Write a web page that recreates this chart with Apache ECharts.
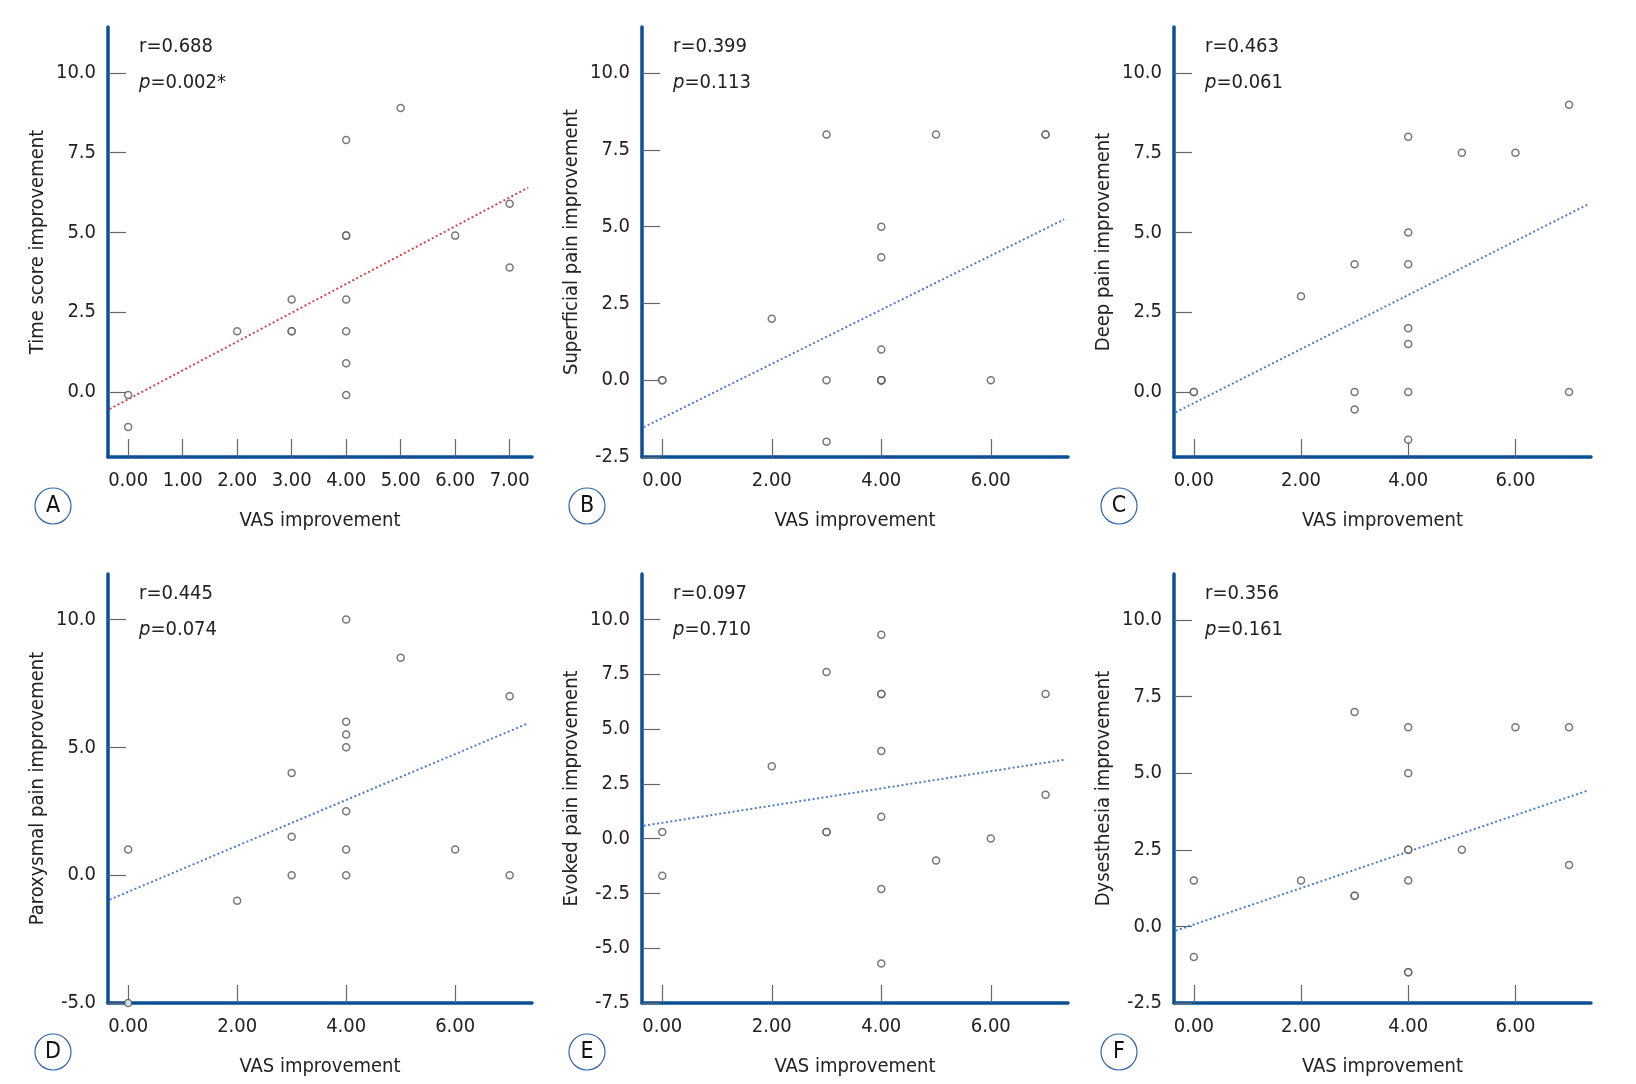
<!DOCTYPE html>
<html>
<head>
<meta charset="utf-8">
<script src="https://cdn.jsdelivr.net/npm/echarts@6/dist/echarts.min.js"></script>
<style>
html, body { margin: 0; padding: 0; background: #fff; }
#chart { width: 1636px; height: 1084px; }
</style>
</head>
<body>
<div id="chart"></div>
<script>
// VAS improvement, same 17 patients in every panel
var vas = [0, 0, 2, 3, 3, 3, 4, 4, 4, 4, 4, 4, 4, 5, 6, 7, 7];
var timeScore = [-0.1, -1.1, 1.9, 2.9, 1.9, 1.9, 7.9, 4.9, 4.9, 2.9, 1.9, 0.9, -0.1, 8.9, 4.9, 5.9, 3.9];
var superficial = [0, 0, 2, 8, 0, -2, 5, 4, 1, 0, 0, 0, 0, 8, 0, 8, 8];
var deep = [0, 0, 3, 4, 0, -0.55, 8, 5, 4, 2, 1.5, 0, -1.5, 7.5, 7.5, 9, 0];
var paroxysmal = [1, -5, -1, 4, 1.5, 0, 10, 6, 5.5, 5, 2.5, 1, 0, 8.5, 1, 7, 0];
var evoked = [0.3, -1.7, 3.3, 7.6, 0.3, 0.3, 9.3, 6.6, 6.6, 4, 1, -2.3, -5.7, -1, 0, 6.6, 2];
var dysesthesia = [1.5, -1, 1.5, 7, 1, 1, 6.5, 5, 2.5, 2.5, 1.5, -1.5, -1.5, 2.5, 6.5, 6.5, 2];

// fit lines
var fitSlope = [0.904, 0.881, 0.847, 0.898, 0.392, 0.595];
var fitIntercept = [-0.23, -1.23, -0.35, -0.65, 0.72, 0.06];
var rValues = ['0.688', '0.399', '0.463', '0.445', '0.097', '0.356'];
var pValues = ['0.002*', '0.113', '0.061', '0.074', '0.710', '0.161'];

var letters = ['A', 'B', 'C', 'D', 'E', 'F'];
var yTitles = ['Time score improvement', 'Superficial pain improvement', 'Deep pain improvement',
  'Paroxysmal pain improvement', 'Evoked pain improvement', 'Dysesthesia improvement'];
var xTitle = 'VAS improvement';
var xTicksA = [0, 1, 2, 3, 4, 5, 6, 7];
var xTicks = [0, 2, 4, 6];
var yTicks = [
  [0, 2.5, 5, 7.5, 10],
  [-2.5, 0, 2.5, 5, 7.5, 10],
  [0, 2.5, 5, 7.5, 10],
  [-5, 0, 5, 10],
  [-7.5, -5, -2.5, 0, 2.5, 5, 7.5, 10],
  [-2.5, 0, 2.5, 5, 7.5, 10]
];
var yRange = [[-2.04, 11.44], [-2.5, 11.5], [-2.04, 11.44], [-5, 11.78], [-7.5, 12.07], [-2.5, 11.5]];
var xRange = [-0.37, 7.41];

var ySeries = [timeScore, superficial, deep, paroxysmal, evoked, dysesthesia];

// layout
var grids = [
  { left: 108, top: 27, width: 424, height: 430 },
  { left: 642, top: 27, width: 426, height: 430 },
  { left: 1174, top: 27, width: 417, height: 430 },
  { left: 108, top: 574, width: 424, height: 429 },
  { left: 642, top: 574, width: 426, height: 429 },
  { left: 1174, top: 574, width: 417, height: 429 }
];

var FONT = "'Liberation Sans Narrow', 'Arial Narrow', 'DejaVu Sans Condensed', sans-serif";
var FS = 20;
var AXIS_BLUE = '#0b4f94';

var myChart = echarts.init(document.getElementById('chart'));

var xAxes = [], yAxes = [], series = [], graphics = [];
for (var i = 0; i < 6; i++) {
  var ticksX = i === 0 ? xTicksA : xTicks;
  xAxes.push({
    gridIndex: i,
    type: 'value',
    min: xRange[0],
    max: xRange[1],
    name: xTitle,
    nameLocation: 'middle',
    nameGap: 54,
    nameTextStyle: { fontFamily: FONT, fontSize: FS, color: '#222' },
    axisLine: { show: true, onZero: false, lineStyle: { color: AXIS_BLUE, width: 3.5 } },
    axisTick: { show: true, inside: true, length: 18, customValues: ticksX, lineStyle: { color: '#666', width: 1.2 } },
    axisLabel: {
      customValues: ticksX,
      margin: 14,
      fontFamily: FONT, fontSize: FS, color: '#222',
      formatter: function (v) { return v.toFixed(2) }
    },
    splitLine: { show: false }
  });
  yAxes.push({
    gridIndex: i,
    type: 'value',
    min: yRange[i][0],
    max: yRange[i][1],
    name: yTitles[i],
    nameLocation: 'middle',
    nameGap: 60,
    nameTextStyle: { fontFamily: FONT, fontSize: FS, color: '#222' },
    axisLine: { show: true, onZero: false, lineStyle: { color: AXIS_BLUE, width: 3.5 } },
    axisTick: { show: true, inside: true, length: 18, customValues: yTicks[i], lineStyle: { color: '#666', width: 1.2 } },
    axisLabel: {
      customValues: yTicks[i],
      margin: 12,
      fontFamily: FONT, fontSize: FS, color: '#222',
      formatter: function (v) { return v.toFixed(1) }
    },
    splitLine: { show: false }
  });

  var pts = [];
  for (var k = 0; k < vas.length; k++) pts.push([vas[k], ySeries[i][k]]);
  series.push({
    type: 'scatter',
    xAxisIndex: i,
    yAxisIndex: i,
    data: pts,
    symbol: 'circle',
    symbolSize: 7,
    z: 5,
    itemStyle: { color: '#fff', borderColor: '#555', borderWidth: 1.5 },
    emphasis: { disabled: true }
  });

  var x0 = -0.34, x1 = 7.34;
  series.push({
    type: 'line',
    xAxisIndex: i,
    yAxisIndex: i,
    data: [[x0, fitIntercept[i] + fitSlope[i] * x0], [x1, fitIntercept[i] + fitSlope[i] * x1]],
    symbol: 'none',
    z: 3,
    lineStyle: { color: i === 0 ? '#d8434b' : '#4d7ccc', width: 2, type: [2, 2.5] },
    emphasis: { disabled: true }
  });

  var g = grids[i];
  graphics.push({
    type: 'text',
    left: g.left + 31,
    top: g.top + 10,
    style: { text: 'r=' + rValues[i], font: FS + 'px ' + FONT, fill: '#222' }
  });
  graphics.push({
    type: 'text',
    left: g.left + 31,
    top: g.top + 46,
    style: {
      text: '{i|p}=' + pValues[i],
      font: FS + 'px ' + FONT,
      fill: '#222',
      rich: { i: { fontStyle: 'italic', fontFamily: FONT, fontSize: FS, fill: '#222' } }
    }
  });
  var cx = g.left - 55, cy = g.top + g.height + 49;
  graphics.push({
    type: 'circle',
    shape: { cx: cx, cy: cy, r: 18 },
    style: { fill: '#fff', stroke: '#2f63ad', lineWidth: 1.2 }
  });
  graphics.push({
    type: 'text',
    x: cx,
    y: cy,
    style: { text: letters[i], font: '23px ' + FONT, fill: '#111', align: 'center', verticalAlign: 'middle' }
  });
}

var option = {
  backgroundColor: '#fff',
  animation: false,
  grid: grids,
  xAxis: xAxes,
  yAxis: yAxes,
  series: series,
  graphic: graphics
};
myChart.setOption(option);
</script>
</body>
</html>
